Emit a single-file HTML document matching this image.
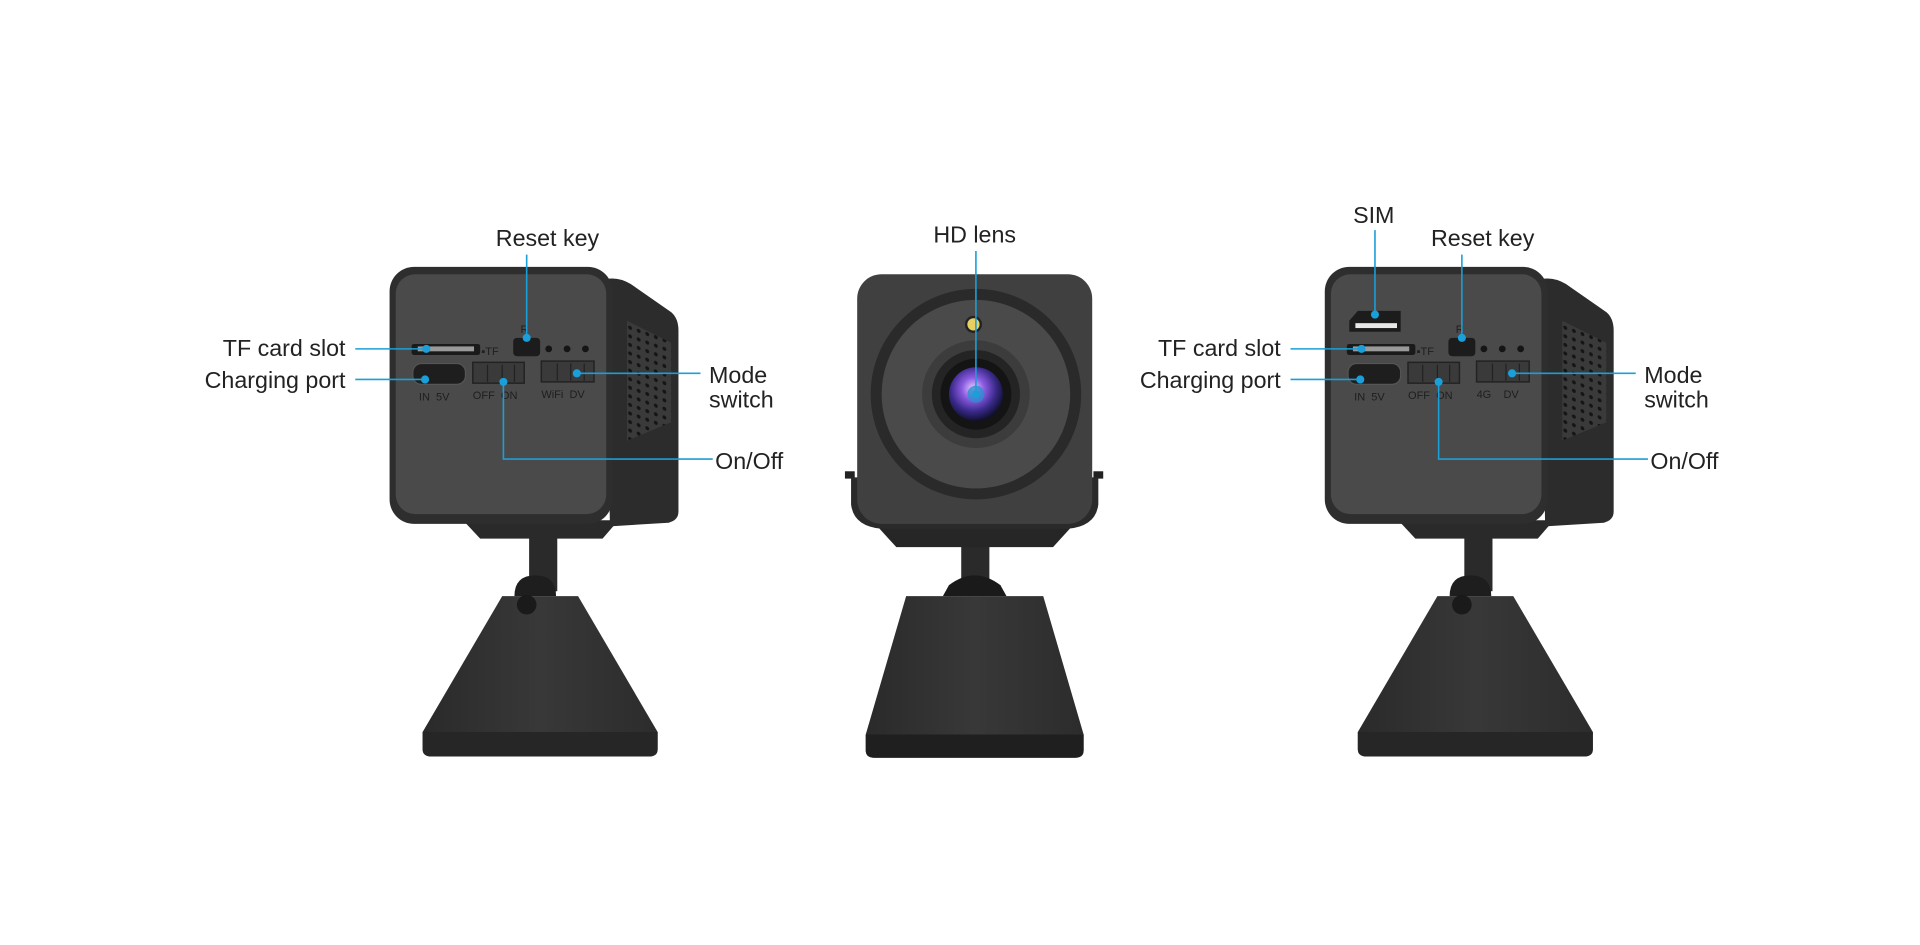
<!DOCTYPE html>
<html><head><meta charset="utf-8"><style>
html,body{margin:0;padding:0;background:#fff;}
svg{display:block}
text{font-family:"Liberation Sans",sans-serif;}
.lbl{font-size:19px;fill:#222;}
.sm{font-size:9px;fill:#1e1e1e;}
.ln{stroke:#1a9fd8;stroke-width:1.3;fill:none}
.dt{fill:#1a9fd8}
</style></head><body>
<svg width="1920" height="945" viewBox="0 0 1568 772" xmlns="http://www.w3.org/2000/svg">
<defs>
<pattern id="mesh" width="7" height="7" patternUnits="userSpaceOnUse" patternTransform="skewY(20)">
<rect width="7" height="7" fill="#3a3a3a"/><circle cx="3.5" cy="3.5" r="1.6" fill="#151515"/></pattern>
<radialGradient id="lens" cx="45%" cy="40%" r="60%">
<stop offset="0" stop-color="#e8d0ff"/><stop offset="0.35" stop-color="#8a5ae0"/><stop offset="0.7" stop-color="#3a2a8a"/><stop offset="1" stop-color="#101030"/></radialGradient>
<linearGradient id="base" x1="0" y1="0" x2="1" y2="0">
<stop offset="0" stop-color="#2a2a2a"/><stop offset="0.5" stop-color="#383838"/><stop offset="1" stop-color="#2c2c2c"/></linearGradient>
</defs>

<g id="camL">
  <path d="M410 487 L472 487 L537 598 L537 612 Q537 618 530 618 L352 618 Q345 618 345 612 L345 598 Z" fill="url(#base)"/>
  <path d="M345 598 L537 598 L537 612 Q537 618 530 618 L352 618 Q345 618 345 612 Z" fill="#262626"/>
  <rect x="432" y="438" width="23" height="45" fill="#2a2a2a"/>
  <path d="M420 487 Q420 470 437 470 Q454 470 454 487 Z" fill="#1e1e1e"/>
  <circle cx="430" cy="494" r="8" fill="#1a1a1a"/>
  <path d="M378 425 L505 425 L492 440 L392 440 Z" fill="#2a2a2a"/>
  <path d="M495 228 Q505 226 515 232 L548 255 Q554 260 554 270 L554 418 Q554 425 546 427 L498 430 Z" fill="#2c2c2c"/>
  <path d="M512 262 L548 280 L548 345 L512 360 Z" fill="url(#mesh)"/>
  <rect x="318" y="218" width="182" height="210" rx="20" fill="#2e2e2e"/>
  <rect x="323" y="224" width="172" height="196" rx="16" fill="#4a4a4a"/>
  <rect x="336" y="281" width="56" height="9" rx="2" fill="#1a1a1a"/>
  <rect x="341" y="283" width="46" height="4" fill="#9a9a9a"/>
  <text class="sm" x="393" y="290">▪TF</text>
  <text class="sm" x="425" y="272">R</text>
  <rect x="419" y="276" width="22" height="15" rx="3" fill="#1c1c1c"/>
  <circle cx="448" cy="285" r="2.8" fill="#151515"/><circle cx="463" cy="285" r="2.8" fill="#151515"/><circle cx="478" cy="285" r="2.8" fill="#151515"/>
  <rect x="337" y="297" width="43" height="17" rx="7" fill="#1e1e1e" stroke="#555" stroke-width="1"/>
  <rect x="386" y="296" width="42" height="17" fill="#3a3a3a" stroke="#222" stroke-width="1.2"/>
  <line x1="398" y1="298" x2="398" y2="312" stroke="#222"/><line x1="410" y1="298" x2="410" y2="312" stroke="#222"/><line x1="420" y1="298" x2="420" y2="312" stroke="#222"/>
  <rect x="442" y="295" width="43" height="17" fill="#3a3a3a" stroke="#222" stroke-width="1.2"/>
  <line x1="455" y1="297" x2="455" y2="311" stroke="#222"/><line x1="466" y1="297" x2="466" y2="311" stroke="#222"/><line x1="477" y1="297" x2="477" y2="311" stroke="#222"/>
  <text class="sm" x="342" y="327">IN&#160;&#160;5V</text>
  <text class="sm" x="386" y="326">OFF&#160;&#160;ON</text>
  <text class="sm" x="442" y="325">WiFi&#160;&#160;DV</text>
</g>

<text class="lbl" x="282" y="291" text-anchor="end">TF card slot</text>
<line class="ln" x1="290" y1="285" x2="348" y2="285"/><circle class="dt" cx="348" cy="285" r="3.3"/>
<text class="lbl" x="282" y="317" text-anchor="end">Charging port</text>
<line class="ln" x1="290" y1="310" x2="347" y2="310"/><circle class="dt" cx="347" cy="310" r="3.3"/>
<text class="lbl" x="447" y="201" text-anchor="middle">Reset key</text>
<line class="ln" x1="430" y1="208" x2="430" y2="276"/><circle class="dt" cx="430" cy="276" r="3.3"/>
<text class="lbl" x="579" y="313">Mode</text><text class="lbl" x="579" y="333">switch</text>
<line class="ln" x1="471" y1="305" x2="572" y2="305"/><circle class="dt" cx="471" cy="305" r="3.3"/>
<text class="lbl" x="584" y="383">On/Off</text>
<polyline class="ln" points="411,312 411,375 582,375"/><circle class="dt" cx="411" cy="312" r="3.3"/>

<g transform="translate(764,0)">
  <path d="M410 487 L472 487 L537 598 L537 612 Q537 618 530 618 L352 618 Q345 618 345 612 L345 598 Z" fill="url(#base)"/>
  <path d="M345 598 L537 598 L537 612 Q537 618 530 618 L352 618 Q345 618 345 612 Z" fill="#262626"/>
  <rect x="432" y="438" width="23" height="45" fill="#2a2a2a"/>
  <path d="M420 487 Q420 470 437 470 Q454 470 454 487 Z" fill="#1e1e1e"/>
  <circle cx="430" cy="494" r="8" fill="#1a1a1a"/>
  <path d="M378 425 L505 425 L492 440 L392 440 Z" fill="#2a2a2a"/>
  <path d="M495 228 Q505 226 515 232 L548 255 Q554 260 554 270 L554 418 Q554 425 546 427 L498 430 Z" fill="#2c2c2c"/>
  <path d="M512 262 L548 280 L548 345 L512 360 Z" fill="url(#mesh)"/>
  <rect x="318" y="218" width="182" height="210" rx="20" fill="#2e2e2e"/>
  <rect x="323" y="224" width="172" height="196" rx="16" fill="#4a4a4a"/>
  <path d="M338 262 L345 254 L380 254 L380 271 L338 271 Z" fill="#1c1c1c"/>
  <rect x="343" y="264" width="34" height="4" fill="#e8e8e8"/>
  <text class="sm" x="356" y="262">SIM</text>
  <rect x="336" y="281" width="56" height="9" rx="2" fill="#1a1a1a"/>
  <rect x="341" y="283" width="46" height="4" fill="#9a9a9a"/>
  <text class="sm" x="393" y="290">▪TF</text>
  <text class="sm" x="425" y="272">R</text>
  <rect x="419" y="276" width="22" height="15" rx="3" fill="#1c1c1c"/>
  <circle cx="448" cy="285" r="2.8" fill="#151515"/><circle cx="463" cy="285" r="2.8" fill="#151515"/><circle cx="478" cy="285" r="2.8" fill="#151515"/>
  <rect x="337" y="297" width="43" height="17" rx="7" fill="#1e1e1e" stroke="#555" stroke-width="1"/>
  <rect x="386" y="296" width="42" height="17" fill="#3a3a3a" stroke="#222" stroke-width="1.2"/>
  <line x1="398" y1="298" x2="398" y2="312" stroke="#222"/><line x1="410" y1="298" x2="410" y2="312" stroke="#222"/><line x1="420" y1="298" x2="420" y2="312" stroke="#222"/>
  <rect x="442" y="295" width="43" height="17" fill="#3a3a3a" stroke="#222" stroke-width="1.2"/>
  <line x1="455" y1="297" x2="455" y2="311" stroke="#222"/><line x1="466" y1="297" x2="466" y2="311" stroke="#222"/><line x1="477" y1="297" x2="477" y2="311" stroke="#222"/>
  <text class="sm" x="342" y="327">IN&#160;&#160;5V</text>
  <text class="sm" x="386" y="326">OFF&#160;&#160;ON</text>
  <text class="sm" x="442" y="325">4G&#160;&#160;&#160;&#160;DV</text>

  <text class="lbl" x="282" y="291" text-anchor="end">TF card slot</text>
  <line class="ln" x1="290" y1="285" x2="348" y2="285"/><circle class="dt" cx="348" cy="285" r="3.3"/>
  <text class="lbl" x="282" y="317" text-anchor="end">Charging port</text>
  <line class="ln" x1="290" y1="310" x2="347" y2="310"/><circle class="dt" cx="347" cy="310" r="3.3"/>
  <text class="lbl" x="447" y="201" text-anchor="middle">Reset key</text>
  <line class="ln" x1="430" y1="208" x2="430" y2="276"/><circle class="dt" cx="430" cy="276" r="3.3"/>
  <text class="lbl" x="358" y="182" text-anchor="middle">SIM</text>
  <line class="ln" x1="359" y1="188" x2="359" y2="257"/><circle class="dt" cx="359" cy="257" r="3.3"/>
  <text class="lbl" x="579" y="313">Mode</text><text class="lbl" x="579" y="333">switch</text>
  <line class="ln" x1="471" y1="305" x2="572" y2="305"/><circle class="dt" cx="471" cy="305" r="3.3"/>
  <text class="lbl" x="584" y="383">On/Off</text>
  <polyline class="ln" points="411,312 411,375 582,375"/><circle class="dt" cx="411" cy="312" r="3.3"/>
</g>

<g>
  <path d="M740 487 L852 487 L885 600 L885 613 Q885 619 878 619 L714 619 Q707 619 707 613 L707 600 Z" fill="url(#base)"/>
  <path d="M707 600 L885 600 L885 613 Q885 619 878 619 L714 619 Q707 619 707 613 Z" fill="#1f1f1f"/>
  <rect x="785" y="440" width="23" height="45" fill="#2a2a2a"/>
  <path d="M775 478 Q796 462 817 478 L822 487 L770 487 Z" fill="#1a1a1a"/>
  <path d="M712 425 L880 425 L860 447 L732 447 Z" fill="#262626"/>
  <rect x="690" y="385" width="8" height="6" fill="#222"/><rect x="893" y="385" width="8" height="6" fill="#222"/>
  <path d="M695 390 L695 412 Q697 430 720 432 L872 432 Q895 430 897 412 L897 390 Z" fill="#2a2a2a"/>
  <rect x="700" y="224" width="192" height="204" rx="20" fill="#404040"/>
  <circle cx="797" cy="322" r="86" fill="#2a2a2a"/>
  <circle cx="797" cy="322" r="77" fill="#4a4a4a"/>
  <circle cx="797" cy="322" r="44" fill="#3c3c3c"/>
  <circle cx="797" cy="322" r="36" fill="#242424"/>
  <circle cx="797" cy="322" r="29" fill="#141414"/>
  <circle cx="797" cy="322" r="22" fill="url(#lens)"/>
  <circle cx="797" cy="322" r="7" fill="#2a8fd0" opacity="0.8"/>
  <circle cx="795" cy="265" r="7" fill="#222"/><circle cx="795" cy="265" r="5" fill="#e8d060"/>
  <text class="lbl" x="796" y="198" text-anchor="middle">HD lens</text>
  <line class="ln" x1="797" y1="205" x2="797" y2="322"/><circle class="dt" cx="797" cy="322" r="3"/>
</g>
</svg>
</body></html>
